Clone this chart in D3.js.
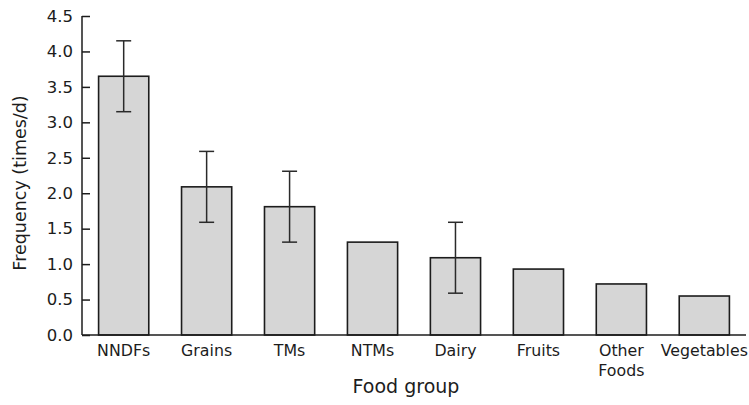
<!DOCTYPE html>
<html>
<head>
<meta charset="utf-8">
<script src="https://cdn.jsdelivr.net/npm/d3@7"></script>
<style>
  body { margin: 0; background: #fff; }
  svg { display: block; font-family: "DejaVu Sans", "Open Sans", sans-serif; }
</style>
</head>
<body>
<svg id="chart" width="749" height="405"></svg>
<script>
// data
let groups = ["NNDFs", "Grains", "TMs", "NTMs", "Dairy", "Fruits", "Other Foods", "Vegetables"];
let freq = [3.65, 2.09, 1.81, 1.31, 1.09, 0.93, 0.72, 0.55];
let errs = [0.5, 0.5, 0.5, null, 0.5, null, null, null];
let yTicks = [0, 0.5, 1.0, 1.5, 2.0, 2.5, 3.0, 3.5, 4.0, 4.5];

let svg = d3.select("#chart");
let padLeft = 82, padRight = 746, padTop = 16, padBottom = 335;
let ink = "#1c1c1c";

let x = d3.scaleBand()
    .domain(groups)
    .range([padLeft, padRight])
    .paddingInner(0.395)
    .paddingOuter(0.2);

let y = d3.scaleLinear()
    .domain([0, 4.5])
    .range([padBottom, padTop]);

// bars
svg.append("g").selectAll("rect")
    .data(groups)
    .join("rect")
    .attr("x", d => x(d))
    .attr("y", (d, i) => y(freq[i]))
    .attr("width", x.bandwidth())
    .attr("height", (d, i) => y(0) - y(freq[i]))
    .attr("fill", "#d6d6d6")
    .attr("stroke", ink)
    .attr("stroke-width", 1.6);

// error bars
let eb = svg.append("g").attr("stroke", "#2a2a2a").attr("stroke-width", 1.5);
groups.forEach(function(g, i) {
    if (errs[i] == null) return;
    let cx = x(g) + x.bandwidth() / 2;
    let hi = y(freq[i] + errs[i]), lo = y(freq[i] - errs[i]);
    eb.append("line").attr("x1", cx).attr("x2", cx).attr("y1", hi).attr("y2", lo);
    eb.append("line").attr("x1", cx - 7.5).attr("x2", cx + 7.5).attr("y1", hi).attr("y2", hi);
    eb.append("line").attr("x1", cx - 7.5).attr("x2", cx + 7.5).attr("y1", lo).attr("y2", lo);
});

// y axis, ticks pointing inwards
let yAxis = d3.axisRight(y)
    .tickValues(yTicks)
    .tickFormat(d3.format(".1f"))
    .tickSize(8);
let ya = svg.append("g")
    .attr("transform", "translate(" + padLeft + ",0)")
    .call(yAxis);
ya.attr("font-family", null);
ya.select(".domain").attr("d", "M0," + padTop + "V" + padBottom).attr("stroke", ink).attr("stroke-width", 1.5);
ya.selectAll(".tick line").attr("stroke", ink).attr("stroke-width", 1.5);
ya.selectAll(".tick text")
    .attr("x", -9)
    .attr("text-anchor", "end")
    .attr("font-size", 16.5)
    .attr("fill", ink);

// x axis
let xa = svg.append("g")
    .attr("transform", "translate(0," + padBottom + ")")
    .call(d3.axisBottom(x).tickSize(0).tickFormat(""));
xa.attr("font-family", null);
xa.select(".domain").attr("d", "M" + padLeft + ",0H" + padRight).attr("stroke", ink).attr("stroke-width", 1.5);

// category labels, wrapped on the space for "Other Foods"
xa.selectAll(".tick").each(function(d) {
    let t = d3.select(this).append("text")
        .attr("fill", ink)
        .attr("font-size", 15.8)
        .attr("text-anchor", "middle");
    let words = d === "Other Foods" ? d.split(" ") : [d];
    words.forEach(function(w, k) {
        t.append("tspan").attr("x", 0).attr("y", 21 + k * 19.5).text(w);
    });
});

// axis titles
svg.append("text")
    .attr("x", (padLeft + padRight) / 2 - 8)
    .attr("y", 393)
    .attr("text-anchor", "middle")
    .attr("font-size", 19)
    .attr("fill", ink)
    .text("Food group");

svg.append("text")
    .attr("transform", "translate(26,183) rotate(-90)")
    .attr("text-anchor", "middle")
    .attr("font-size", 17.5)
    .attr("fill", ink)
    .text("Frequency (times/d)");
</script>
</body>
</html>
